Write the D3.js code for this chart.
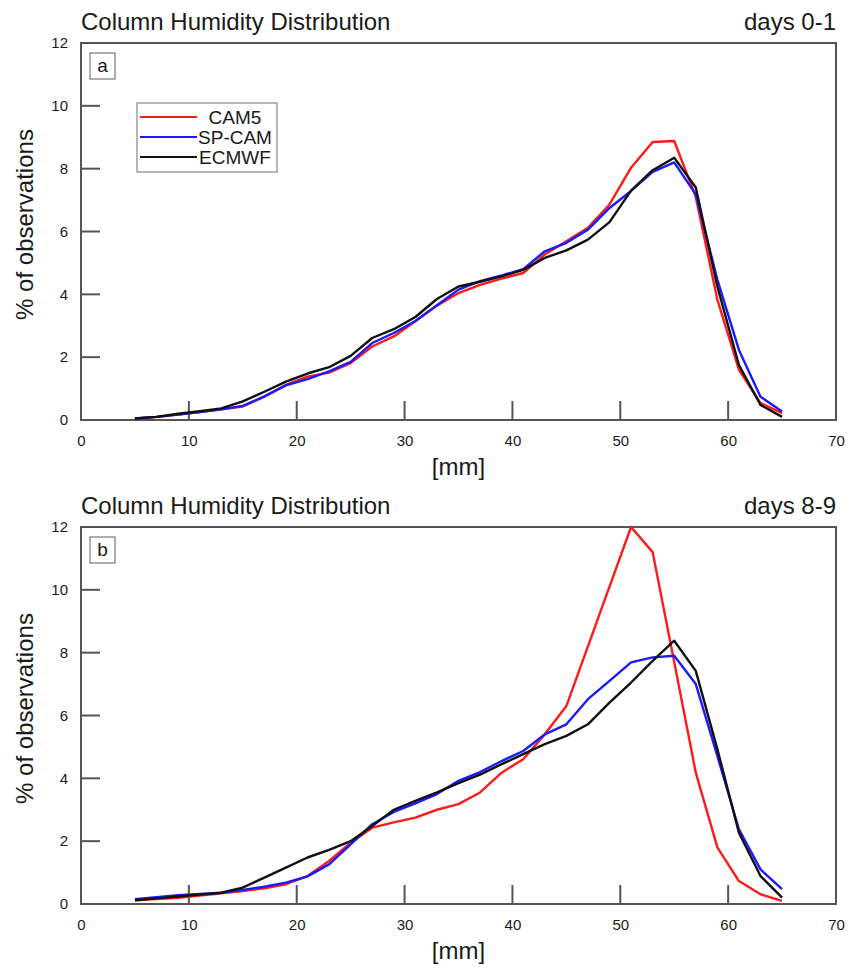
<!DOCTYPE html>
<html>
<head>
<meta charset="utf-8">
<script src="https://cdn.jsdelivr.net/npm/d3@7"></script>
<style>
  body { margin: 0; background: #fff; }
  text { font-family: "Liberation Sans", Arial, sans-serif; fill: #1a1a1a; }
</style>
</head>
<body>
<svg id="chart" width="852" height="971"></svg>
<script>
// column humidity bins [mm]
var bins = [5, 7, 9, 11, 13, 15, 17, 19, 21, 23, 25, 27, 29, 31, 33, 35, 37, 39, 41, 43, 45, 47, 49, 51, 53, 55, 57, 59, 61, 63, 65];

// panel a, days 0-1
var cam5A = [0.05, 0.1, 0.17, 0.25, 0.34, 0.43, 0.74, 1.12, 1.38, 1.51, 1.81, 2.34, 2.66, 3.14, 3.64, 4.04, 4.3, 4.5, 4.68, 5.27, 5.69, 6.12, 6.86, 8.03, 8.85, 8.88, 7.1, 3.83, 1.6, 0.54, 0.22];
var spcamA = [0.05, 0.1, 0.17, 0.25, 0.34, 0.45, 0.75, 1.1, 1.3, 1.55, 1.85, 2.45, 2.77, 3.15, 3.65, 4.15, 4.42, 4.6, 4.8, 5.37, 5.64, 6.06, 6.75, 7.29, 7.9, 8.2, 7.18, 4.47, 2.23, 0.74, 0.27];
var ecmwfA = [0.05, 0.1, 0.2, 0.28, 0.37, 0.59, 0.9, 1.22, 1.48, 1.68, 2.04, 2.61, 2.89, 3.28, 3.85, 4.25, 4.4, 4.57, 4.78, 5.16, 5.4, 5.74, 6.3, 7.3, 7.95, 8.35, 7.4, 4.25, 1.75, 0.48, 0.1];

// panel b, days 8-9
var cam5B = [0.12, 0.16, 0.2, 0.27, 0.34, 0.41, 0.5, 0.63, 0.89, 1.37, 1.95, 2.43, 2.6, 2.75, 3.0, 3.18, 3.55, 4.18, 4.61, 5.4, 6.3, 8.2, 10.1, 12.0, 11.2, 7.7, 4.18, 1.8, 0.73, 0.31, 0.1];
var spcamB = [0.15, 0.22, 0.28, 0.32, 0.36, 0.45, 0.55, 0.68, 0.88, 1.26, 1.9, 2.54, 2.93, 3.2, 3.5, 3.92, 4.2, 4.55, 4.87, 5.4, 5.72, 6.52, 7.1, 7.69, 7.85, 7.9, 7.0, 4.71, 2.38, 1.1, 0.47];
var ecmwfB = [0.12, 0.18, 0.24, 0.3, 0.36, 0.52, 0.84, 1.16, 1.48, 1.72, 2.0, 2.48, 3.0, 3.28, 3.55, 3.85, 4.12, 4.45, 4.77, 5.09, 5.35, 5.72, 6.41, 7.05, 7.74, 8.38, 7.42, 4.93, 2.27, 0.89, 0.2];

var seriesNames = ['CAM5', 'SP-CAM', 'ECMWF'];
var seriesColors = ['#ff1a1a', '#1a1aff', '#111111'];
var xTicks = [0, 10, 20, 30, 40, 50, 60, 70];
var yTicks = [0, 2, 4, 6, 8, 10, 12];

var panels = [
  {letter: 'a', days: 'days 0-1', top: 43, series: [cam5A, spcamA, ecmwfA], legend: true},
  {letter: 'b', days: 'days 8-9', top: 527, series: [cam5B, spcamB, ecmwfB], legend: false}
];

var svg = d3.select('#chart');
var left = 81, right = 836, plotH = 377;
var tickLen = 19;
var frameColor = '#555';

var x = d3.scaleLinear().domain([0, 70]).range([left, right]);

panels.forEach(function(p) {
  var y = d3.scaleLinear().domain([0, 12]).range([p.top + plotH, p.top]);
  var bottom = p.top + plotH;
  var g = svg.append('g');

  g.append('text')
    .attr('x', left).attr('y', p.top - 13)
    .style('font-size', '24px')
    .text('Column Humidity Distribution');
  g.append('text')
    .attr('x', right).attr('y', p.top - 13)
    .attr('text-anchor', 'end')
    .style('font-size', '24px')
    .text(p.days);

  // tick labels from d3 axes, tick marks drawn separately (inward)
  var xg = g.append('g')
    .attr('transform', 'translate(0,' + bottom + ')')
    .call(d3.axisBottom(x).tickValues(xTicks).tickSize(0).tickPadding(15));
  var yg = g.append('g')
    .attr('transform', 'translate(' + left + ',0)')
    .call(d3.axisLeft(y).tickValues(yTicks).tickSize(0).tickPadding(13));

  [xg, yg].forEach(function(ax) {
    ax.select('.domain').remove();
    ax.selectAll('.tick line').remove();
    ax.selectAll('.tick text')
      .style('font-family', '"Liberation Sans", Arial, sans-serif')
      .style('font-size', '15px')
      .attr('fill', '#222');
  });

  g.selectAll('.xtick')
    .data(xTicks)
    .enter().append('line')
    .attr('class', 'xtick')
    .attr('x1', function(d) { return x(d); })
    .attr('x2', function(d) { return x(d); })
    .attr('y1', bottom)
    .attr('y2', bottom - tickLen)
    .attr('stroke', frameColor)
    .attr('stroke-width', 2);

  g.selectAll('.ytick')
    .data(yTicks)
    .enter().append('line')
    .attr('class', 'ytick')
    .attr('x1', left)
    .attr('x2', left + tickLen)
    .attr('y1', function(d) { return y(d); })
    .attr('y2', function(d) { return y(d); })
    .attr('stroke', frameColor)
    .attr('stroke-width', 2);

  g.append('rect')
    .attr('x', left).attr('y', p.top)
    .attr('width', right - left).attr('height', plotH)
    .attr('fill', 'none')
    .attr('stroke', frameColor).attr('stroke-width', 2);

  // axis titles
  g.append('text')
    .attr('transform', 'translate(33,' + (p.top + plotH / 2 - 7) + ') rotate(-90)')
    .attr('text-anchor', 'middle')
    .style('font-size', '24px')
    .text('% of observations');
  g.append('text')
    .attr('x', (left + right) / 2).attr('y', bottom + 55)
    .attr('text-anchor', 'middle')
    .style('font-size', '24px')
    .text('[mm]');

  // panel letter box
  g.append('rect')
    .attr('x', left + 9).attr('y', p.top + 10)
    .attr('width', 25).attr('height', 26)
    .attr('fill', '#fff')
    .attr('stroke', '#777').attr('stroke-width', 1.2);
  g.append('text')
    .attr('x', left + 21.5).attr('y', p.top + 29)
    .attr('text-anchor', 'middle')
    .style('font-size', '19px')
    .text(p.letter);

  var line = d3.line()
    .x(function(d, i) { return x(bins[i]); })
    .y(function(d) { return y(d); });

  g.selectAll('.series')
    .data(p.series)
    .enter().append('path')
    .attr('class', 'series')
    .attr('d', line)
    .attr('fill', 'none')
    .attr('stroke', function(d, i) { return seriesColors[i]; })
    .attr('stroke-width', 2.4)
    .attr('stroke-linejoin', 'round');

  if (p.legend) {
    var lg = g.append('g');
    lg.append('rect')
      .attr('x', 137).attr('y', p.top + 60)
      .attr('width', 140).attr('height', 69)
      .attr('fill', '#fff')
      .attr('stroke', '#888').attr('stroke-width', 1.2);
    seriesNames.forEach(function(name, i) {
      var ly = p.top + 74 + i * 20;
      lg.append('line')
        .attr('x1', 140).attr('x2', 197)
        .attr('y1', ly).attr('y2', ly)
        .attr('stroke', seriesColors[i]).attr('stroke-width', 2.2);
      lg.append('text')
        .attr('x', 235).attr('y', ly + 7)
        .attr('text-anchor', 'middle')
        .style('font-size', '19px')
        .text(name);
    });
  }
});
</script>
</body>
</html>
